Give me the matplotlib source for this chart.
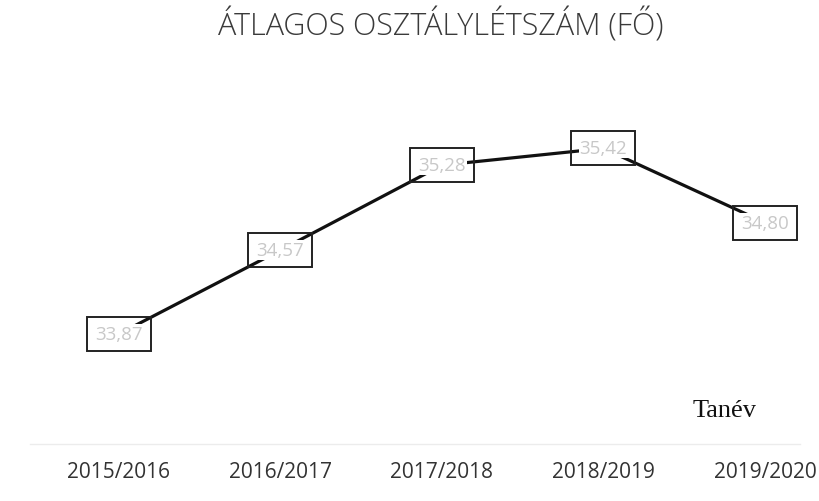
import matplotlib
matplotlib.use("Agg")
import matplotlib.pyplot as plt
from matplotlib.patches import Rectangle
from matplotlib.transforms import ScaledTranslation

years = ["2015/2016", "2016/2017", "2017/2018", "2018/2019", "2019/2020"]
values = [33.87, 34.57, 35.28, 35.42, 34.80]
value_labels = ["33,87", "34,57", "35,28", "35,42", "34,80"]
title = "ÁTLAGOS OSZTÁLYLÉTSZÁM (FŐ)"
axis_label = "Tanév"

fig = plt.figure(figsize=(8.2, 5.02), dpi=100)
fig.patch.set_facecolor("white")
ax = fig.add_axes([30/820, 57/502, 770/820, 365/502])
x = list(range(len(years)))
ax.plot(x, values, color="#111111", lw=2.3, zorder=2, solid_capstyle="round")
ax.set_xlim(-0.551, 4.217)
ax.set_ylim(32.95, 36.0)

for xi, v, lab in zip(x, values, value_labels):
    trans = fig.dpi_scale_trans + ScaledTranslation(xi, v, ax.transData)
    ax.add_patch(Rectangle((-0.32, -0.17), 0.64, 0.34, transform=trans,
                           facecolor="none", edgecolor="#222222", lw=1.4,
                           zorder=4, clip_on=False))
    ax.text(xi, v, lab, ha="center", va="center", fontsize=13.5,
            family="Open Sans", color="#c8c8c8", zorder=3,
            bbox=dict(boxstyle="square,pad=0.05", facecolor="white", edgecolor="none"))

ax.set_xticks(x)
ax.set_xticklabels(years, family="Open Sans", fontsize=15, color="#333333")
ax.tick_params(axis="x", length=0, pad=12)
ax.set_yticks([])
for s in ["top", "right", "left"]:
    ax.spines[s].set_visible(False)
ax.spines["bottom"].set_color("#ececec")
ax.spines["bottom"].set_linewidth(1.0)

fig.text(441/820, 1 - 26/502, title, ha="center", va="center",
         family="Open Sans", fontweight="light", fontsize=22, color="#3a3a3a")
fig.text(725/820, 1 - 411/502, axis_label, ha="center", va="center",
         family="Liberation Serif", fontsize=19, color="#111111")

fig.savefig("out.png", dpi=100)
